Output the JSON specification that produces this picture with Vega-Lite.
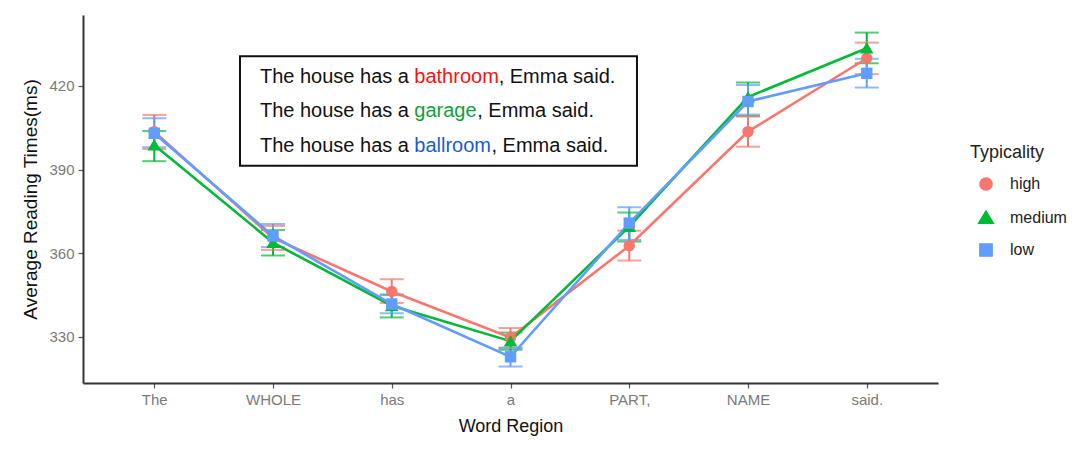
{
  "$schema": "https://vega.github.io/schema/vega-lite/v6.json",
  "width": 855,
  "height": 368,
  "autosize": "none",
  "padding": {"left": 83, "top": 15, "right": 137, "bottom": 66},
  "background": "white",
  "config": {
    "view": {"stroke": null},
    "font": "Liberation Sans",
    "axis": {
      "grid": false,
      "domainColor": "#333333",
      "domainWidth": 2,
      "tickColor": "#555555",
      "tickSize": 5,
      "tickWidth": 1.2,
      "labelColor": "#7a7a7a",
      "labelFontSize": 15,
      "labelPadding": 4,
      "titleFontWeight": "normal",
      "titleColor": "#111111"
    },
    "legend": {
      "orient": "none", "legendX": 887, "legendY": 129,
      "titleFontSize": 18, "titleFontWeight": "normal", "titleColor": "#222222", "titlePadding": 14,
      "labelFontSize": 16, "labelColor": "#222222", "labelOffset": 16,
      "symbolSize": 150, "symbolOffset": 8, "rowPadding": 13.5, "padding": 0,
      "symbolOpacity": 1
    }
  },
  "datasets": {
    "rt": [
      {"word": "The", "pos": 1, "typ": "high", "rt": 403.6, "lo": 397.4, "hi": 409.6},
      {"word": "The", "pos": 1, "typ": "medium", "rt": 398.8, "lo": 393.0, "hi": 403.8},
      {"word": "The", "pos": 1, "typ": "low", "rt": 403.0, "lo": 398.0, "hi": 408.4},
      {"word": "WHOLE", "pos": 2, "typ": "high", "rt": 365.5, "lo": 361.2, "hi": 369.8},
      {"word": "WHOLE", "pos": 2, "typ": "medium", "rt": 363.8, "lo": 359.2, "hi": 368.3},
      {"word": "WHOLE", "pos": 2, "typ": "low", "rt": 366.2, "lo": 362.2, "hi": 370.5},
      {"word": "has", "pos": 3, "typ": "high", "rt": 346.3, "lo": 342.2, "hi": 350.7},
      {"word": "has", "pos": 3, "typ": "medium", "rt": 341.2, "lo": 337.0, "hi": 345.2},
      {"word": "has", "pos": 3, "typ": "low", "rt": 341.8, "lo": 338.5, "hi": 345.0},
      {"word": "a", "pos": 4, "typ": "high", "rt": 329.8, "lo": 326.0, "hi": 333.2},
      {"word": "a", "pos": 4, "typ": "medium", "rt": 328.5, "lo": 325.4, "hi": 331.6},
      {"word": "a", "pos": 4, "typ": "low", "rt": 322.9, "lo": 319.4, "hi": 326.2},
      {"word": "PART,", "pos": 5, "typ": "high", "rt": 362.7, "lo": 357.4, "hi": 368.1},
      {"word": "PART,", "pos": 5, "typ": "medium", "rt": 369.6, "lo": 364.2, "hi": 374.6},
      {"word": "PART,", "pos": 5, "typ": "low", "rt": 370.8, "lo": 364.8, "hi": 376.5},
      {"word": "NAME", "pos": 6, "typ": "high", "rt": 403.6, "lo": 398.2, "hi": 409.0},
      {"word": "NAME", "pos": 6, "typ": "medium", "rt": 416.0, "lo": 409.2, "hi": 421.2},
      {"word": "NAME", "pos": 6, "typ": "low", "rt": 414.4, "lo": 409.7, "hi": 420.3},
      {"word": "said.", "pos": 7, "typ": "high", "rt": 429.9, "lo": 424.2, "hi": 435.5},
      {"word": "said.", "pos": 7, "typ": "medium", "rt": 433.5, "lo": 428.1, "hi": 439.1},
      {"word": "said.", "pos": 7, "typ": "low", "rt": 424.5, "lo": 419.4, "hi": 429.7}
    ],
    "box": [
      {"x1": 1.722, "x2": 5.065, "y1": 430.6, "y2": 391.4}
    ],
    "txt": [
      {"x": 1.89, "y": 423.2, "t": "The house has a", "col": "#111111"},
      {"x": 3.19, "y": 423.2, "t": "bathroom", "col": "#ff1010"},
      {"x": 3.90, "y": 423.2, "t": ", Emma said.", "col": "#111111"},
      {"x": 1.89, "y": 410.9, "t": "The house has a", "col": "#111111"},
      {"x": 3.19, "y": 410.9, "t": "garage", "col": "#12a03a"},
      {"x": 3.72, "y": 410.9, "t": ", Emma said.", "col": "#111111"},
      {"x": 1.89, "y": 398.3, "t": "The house has a", "col": "#111111"},
      {"x": 3.19, "y": 398.3, "t": "ballroom", "col": "#1a5cc8"},
      {"x": 3.84, "y": 398.3, "t": ", Emma said.", "col": "#111111"}
    ]
  },
  "layer": [
    {
      "data": {"name": "rt"},
      "mark": {"type": "rule", "strokeWidth": 2},
      "encoding": {
        "x": {
          "field": "pos", "type": "quantitative",
          "scale": {"domain": [0.4, 7.6], "nice": false, "zero": false},
          "axis": {
            "values": [1, 2, 3, 4, 5, 6, 7],
            "labelExpr": "['The','WHOLE','has','a','PART,','NAME','said.'][datum.value - 1]",
            "titleFontSize": 18, "titlePadding": 10
          },
          "title": "Word Region"
        },
        "y": {
          "field": "lo", "type": "quantitative",
          "scale": {"domain": [313.5, 445.4], "nice": false, "zero": false},
          "axis": {"values": [330, 360, 390, 420], "titleFontSize": 19, "titlePadding": 8},
          "title": "Average Reading Times(ms)"
        },
        "y2": {"field": "hi"},
        "color": {
          "field": "typ", "type": "nominal",
          "scale": {"domain": ["high", "medium", "low"], "range": ["#F8766D", "#00BA38", "#619CFF"]},
          "title": "Typicality"
        }
      }
    },
    {
      "data": {"name": "rt"},
      "mark": {"type": "tick", "orient": "horizontal", "size": 24, "thickness": 2},
      "encoding": {
        "x": {"field": "pos", "type": "quantitative", "title": "Word Region"},
        "y": {"field": "lo", "type": "quantitative", "title": "Average Reading Times(ms)"},
        "color": {"field": "typ", "type": "nominal", "title": "Typicality"}
      }
    },
    {
      "data": {"name": "rt"},
      "mark": {"type": "tick", "orient": "horizontal", "size": 24, "thickness": 2},
      "encoding": {
        "x": {"field": "pos", "type": "quantitative", "title": "Word Region"},
        "y": {"field": "hi", "type": "quantitative", "title": "Average Reading Times(ms)"},
        "color": {"field": "typ", "type": "nominal", "title": "Typicality"}
      }
    },
    {
      "data": {"name": "rt"},
      "mark": {"type": "line", "strokeWidth": 2.6},
      "encoding": {
        "x": {"field": "pos", "type": "quantitative", "title": "Word Region"},
        "y": {"field": "rt", "type": "quantitative", "title": "Average Reading Times(ms)"},
        "color": {"field": "typ", "type": "nominal", "title": "Typicality"},
        "detail": {"field": "typ"}
      }
    },
    {
      "data": {"name": "rt"},
      "mark": {"type": "point", "filled": true, "size": 130, "opacity": 1},
      "encoding": {
        "x": {"field": "pos", "type": "quantitative", "title": "Word Region"},
        "y": {"field": "rt", "type": "quantitative", "title": "Average Reading Times(ms)"},
        "color": {"field": "typ", "type": "nominal", "title": "Typicality"},
        "shape": {
          "field": "typ", "type": "nominal", "title": "Typicality",
          "scale": {"domain": ["high", "medium", "low"], "range": ["circle", "M0,-1.05L1.2,0.95L-1.2,0.95Z", "square"]}
        }
      }
    },
    {
      "data": {"name": "box"},
      "mark": {"type": "rect", "fill": "white", "stroke": "#111111", "strokeWidth": 2},
      "encoding": {
        "x": {"field": "x1", "type": "quantitative", "title": "Word Region"},
        "x2": {"field": "x2"},
        "y": {"field": "y1", "type": "quantitative", "title": "Average Reading Times(ms)"},
        "y2": {"field": "y2"}
      }
    },
    {
      "data": {"name": "txt"},
      "mark": {"type": "text", "align": "left", "baseline": "middle", "fontSize": 20, "font": "Liberation Sans"},
      "encoding": {
        "x": {"field": "x", "type": "quantitative", "title": "Word Region"},
        "y": {"field": "y", "type": "quantitative", "title": "Average Reading Times(ms)"},
        "text": {"field": "t"},
        "fill": {"field": "col", "type": "nominal", "scale": null}
      }
    }
  ]
}
